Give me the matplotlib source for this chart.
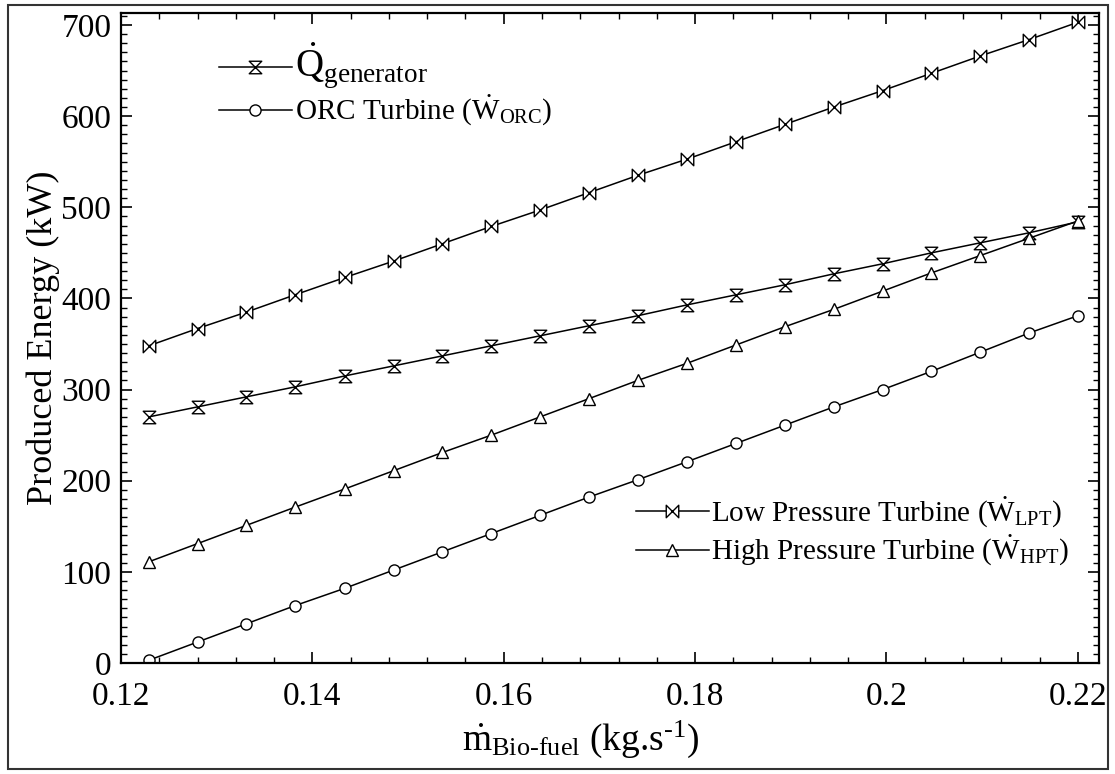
import numpy as np
import matplotlib
matplotlib.use('Agg')
import matplotlib.pyplot as plt
from matplotlib.path import Path
from matplotlib.patches import Rectangle
from matplotlib.ticker import MultipleLocator

plt.rcParams['font.family'] = ['Liberation Serif', 'DejaVu Serif']
plt.rcParams['mathtext.fontset'] = 'custom'
plt.rcParams['mathtext.rm'] = 'Liberation Serif'
plt.rcParams['mathtext.it'] = 'Liberation Serif:italic'

# fuel mass flow (kg/s)
m_fuel = [0.1229, 0.1280, 0.1331, 0.1382, 0.1434, 0.1485, 0.1536, 0.1587, 0.1638, 0.1689,
          0.1740, 0.1792, 0.1843, 0.1894, 0.1945, 0.1996, 0.2047, 0.2098, 0.2149, 0.2200]

# energies (kW)
q_gen = [270, 281, 292, 303, 315, 326, 337, 348, 359, 370,
         381, 393, 404, 415, 427, 438, 450, 461, 472, 484]
w_orc = [3, 23, 43, 63, 82, 102, 122, 142, 162, 182,
         201, 221, 241, 261, 281, 300, 320, 341, 362, 381]
w_lpt = [348, 367, 385, 404, 423, 441, 460, 479, 497, 516,
         535, 553, 572, 591, 610, 628, 647, 666, 684, 703]
w_hpt = [111, 131, 151, 171, 191, 211, 231, 250, 270, 290,
         310, 329, 349, 369, 388, 408, 428, 447, 466, 485]

# custom markers: vertical hourglass and horizontal bowtie
hourglass = Path([(-1, 1), (1, 1), (-1, -1), (1, -1), (-1, 1)],
                 [Path.MOVETO, Path.LINETO, Path.LINETO, Path.LINETO, Path.CLOSEPOLY])
bowtie = Path([(-1, 1), (-1, -1), (1, 1), (1, -1), (-1, 1)],
              [Path.MOVETO, Path.LINETO, Path.LINETO, Path.LINETO, Path.CLOSEPOLY])

fig = plt.figure(figsize=(11.15, 7.74), dpi=100)
ax = fig.add_axes([0.1085, 0.1434, 0.877, 0.8396])

style = dict(color='black', lw=1.1, mfc='white', mec='black', mew=1.0)
l1, = ax.plot(m_fuel, q_gen, marker=hourglass, ms=9, **style,
              label=r'$\dot{\mathrm{Q}}_{\mathrm{generator}}$')
l2, = ax.plot(m_fuel, w_orc, marker='o', ms=8, **style,
              label=r'ORC Turbine ($\dot{\mathrm{W}}_{\mathrm{ORC}}$)')
l3, = ax.plot(m_fuel, w_lpt, marker=bowtie, ms=9, **style,
              label=r'Low Pressure Turbine ($\dot{\mathrm{W}}_{\mathrm{LPT}}$)')
l4, = ax.plot(m_fuel, w_hpt, marker='^', ms=9, **style,
              label=r'High Pressure Turbine ($\dot{\mathrm{W}}_{\mathrm{HPT}}$)')

ax.set_xlim(0.12, 0.2222)
ax.set_ylim(0, 713)
ax.xaxis.set_minor_locator(MultipleLocator(0.004))
ax.yaxis.set_major_locator(MultipleLocator(100))
ax.yaxis.set_minor_locator(MultipleLocator(10))
ax.set_xticks([0.12, 0.14, 0.16, 0.18, 0.2, 0.22])
ax.set_xticklabels(['0.12', '0.14', '0.16', '0.18', '0.2', '0.22'])

ax.tick_params(which='both', direction='in', top=True, right=True, labelsize=24)
ax.tick_params(which='major', length=8, width=1.2)
ax.tick_params(which='minor', length=4, width=1.0)
ax.tick_params(axis='x', pad=13)
ax.tick_params(axis='y', pad=7)
for sp in ax.spines.values():
    sp.set_linewidth(1.6)

ax.set_xlabel(r'$\dot{\mathrm{m}}_{\mathrm{Bio\text{-}fuel}}$ (kg.s$^{\text{-1}}$)', fontsize=27)
ax.xaxis.set_label_coords(0.47, -0.085)
ax.set_ylabel('Produced Energy (kW)', fontsize=26)
ax.yaxis.set_label_coords(-0.062, 0.5)

leg1 = ax.legend(handles=[l1, l2], loc='upper left', bbox_to_anchor=(0.088, 0.975),
                 frameon=False, fontsize=21, handlelength=2.5, handletextpad=0.1,
                 labelspacing=0.05, borderaxespad=0)
leg1.get_texts()[0].set_fontsize(28)
ax.add_artist(leg1)
ax.legend(handles=[l3, l4], loc='lower right', bbox_to_anchor=(0.982, 0.128),
          frameon=False, fontsize=21, handlelength=2.5, handletextpad=0.1,
          labelspacing=0.1, borderaxespad=0)

# outer frame around the figure
fig.patches.append(Rectangle((0.007, 0.007), 0.987, 0.987, transform=fig.transFigure,
                             fill=False, edgecolor='#333333', lw=1.5))

fig.savefig('out.png', dpi=100)
